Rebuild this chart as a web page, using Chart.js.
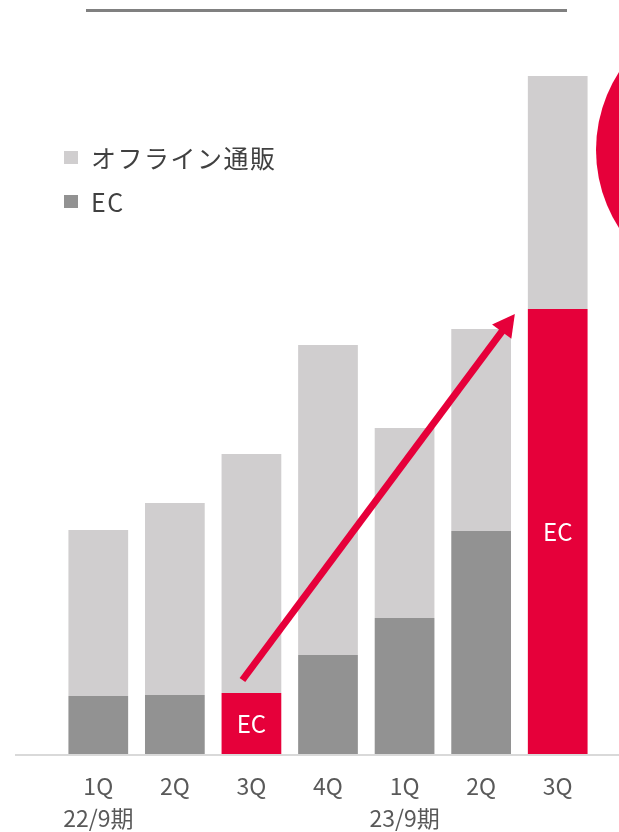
<!DOCTYPE html>
<html lang="ja">
<head>
<meta charset="utf-8">
<script src="https://cdn.jsdelivr.net/npm/chart.js@4.4.1/dist/chart.umd.min.js"></script>
<style>
  html, body { margin: 0; padding: 0; background: #ffffff; }
  #wrap { position: relative; width: 619px; height: 832px; }
  #legend {
    position: absolute; left: 64px; top: 135px;
    font-family: "Noto Sans CJK JP", "Noto Sans", sans-serif;
    font-size: 25px; color: #404040; letter-spacing: 1.5px;
  }
  #legend .item { display: flex; align-items: center; height: 44px; }
  #legend .sw { width: 14px; height: 13px; margin-right: 13px; }
</style>
</head>
<body>
<div id="wrap">
  <canvas id="chart"></canvas>
  <div id="legend"></div>
</div>
<script>
// quarter labels (second line = fiscal year)
const quarters = [['1Q', '22/9期'], '2Q', '3Q', '4Q', ['1Q', '23/9期'], '2Q', '3Q'];
// EC sales (arbitrary units)
const ecValues = [11.6, 11.8, 12.2, 19.8, 27.2, 44.6, 89];
// offline mail-order sales, stacked on top of EC
const offlineValues = [33.2, 38.4, 47.8, 62, 38, 40.4, 46.6];

const RED = '#e6003a';
const GREY_EC = '#929292';
const GREY_OFF = '#d0cecf';
const redBars = [2, 6];   // quarters highlighted in red

const FONT = '"Noto Sans CJK JP", "Noto Sans", sans-serif';

// legend as plain html
const legend = document.getElementById('legend');
[['オフライン通販', GREY_OFF], ['EC', GREY_EC]].forEach(([name, color]) => {
    const row = document.createElement('div');
    row.className = 'item';
    row.innerHTML = `<span class="sw" style="background:${color}"></span><span>${name}</span>`;
    legend.appendChild(row);
});

const decorPlugin = {
    id: 'decor',
    beforeDraw: (chart) => {
        const c = chart.ctx;
        c.save();
        // grey rule at the top
        c.strokeStyle = '#808080';
        c.lineWidth = 3;
        c.beginPath();
        c.moveTo(86, 10.5);
        c.lineTo(567, 10.5);
        c.stroke();
        // red circle peeking in from the right
        c.fillStyle = RED;
        c.beginPath();
        c.arc(740, 150, 144, 0, Math.PI * 2);
        c.fill();
        c.restore();
    },
    beforeDatasetsDraw: (chart) => {
        const c = chart.ctx;
        const y0 = chart.scales.y.getPixelForValue(0);
        c.save();
        c.strokeStyle = '#d9d9d9';
        c.lineWidth = 2;
        c.beginPath();
        c.moveTo(15, y0 + 1);
        c.lineTo(619, y0 + 1);
        c.stroke();
        c.restore();
    },
    afterDatasetsDraw: (chart) => {
        const c = chart.ctx;
        const ecMeta = chart.getDatasetMeta(0);
        c.save();

        // white "EC" labels in the red bars
        c.fillStyle = '#ffffff';
        c.font = '24px ' + FONT;
        c.textAlign = 'center';
        c.textBaseline = 'middle';
        redBars.forEach(i => {
            const bar = ecMeta.data[i];
            c.fillText('EC', bar.x, (bar.y + bar.base) / 2);
        });

        // growth arrow from first red bar to the last one
        const from = ecMeta.data[redBars[0]];
        const to = ecMeta.data[redBars[1]];
        const x1 = from.x - 9, y1 = from.y - 13;
        const x2 = to.x - to.width / 2 - 13, y2 = to.y + 5;
        const ang = Math.atan2(y2 - y1, x2 - x1);
        const headLen = 22, headHalf = 12;
        const bx = x2 - headLen * Math.cos(ang);
        const by = y2 - headLen * Math.sin(ang);
        c.strokeStyle = RED;
        c.lineWidth = 7;
        c.beginPath();
        c.moveTo(x1, y1);
        c.lineTo(bx + 2 * Math.cos(ang), by + 2 * Math.sin(ang));
        c.stroke();
        c.fillStyle = RED;
        c.beginPath();
        c.moveTo(x2, y2);
        c.lineTo(bx - headHalf * Math.sin(ang), by + headHalf * Math.cos(ang));
        c.lineTo(bx + headHalf * Math.sin(ang), by - headHalf * Math.cos(ang));
        c.closePath();
        c.fill();
        c.restore();
    }
};

new Chart(document.getElementById('chart'), {
    type: 'bar',
    data: {
        labels: quarters,
        datasets: [
            {
                label: 'EC',
                data: ecValues,
                backgroundColor: (ctx) => redBars.includes(ctx.dataIndex) ? RED : GREY_EC
            },
            {
                label: 'オフライン通販',
                data: offlineValues,
                backgroundColor: GREY_OFF
            }
        ]
    },
    plugins: [decorPlugin],
    options: {
        responsive: true,
        maintainAspectRatio: false,
        animation: false,
        categoryPercentage: 1,
        barPercentage: 0.78,
        layout: {
            padding: { left: 60, right: 23, top: 4, bottom: 0 }
        },
        plugins: {
            legend: { display: false },
            tooltip: { enabled: false }
        },
        scales: {
            x: {
                stacked: true,
                grid: { display: false, drawTicks: false },
                border: { display: false },
                ticks: {
                    color: '#595959',
                    font: { family: FONT, size: 23, lineHeight: 1.4 },
                    padding: 16,
                    maxRotation: 0,
                    autoSkip: false
                },
                // keep the baseline where the picture has it
                afterFit: (axis) => { axis.height = 78; }
            },
            y: {
                stacked: true,
                display: false,
                min: 0,
                max: 150
            }
        }
    }
});
</script>
</body>
</html>
